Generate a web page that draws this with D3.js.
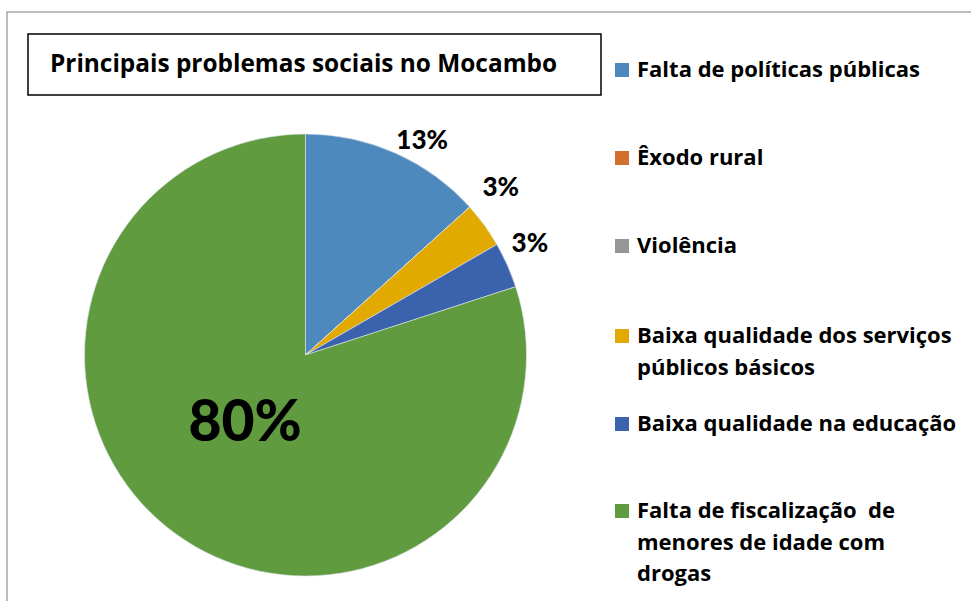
<!DOCTYPE html>
<html><head><meta charset="utf-8">
<script src="https://cdn.jsdelivr.net/npm/d3@7"></script>
<style>html,body{margin:0;padding:0;background:#fff;}svg{display:block;}</style>
</head><body>
<svg id="c" width="971" height="601"></svg>
<script>
const title = "Principais problemas sociais no Mocambo";
const categories = ["Falta de políticas públicas","Êxodo rural","Violência","Baixa qualidade dos serviços públicos básicos","Baixa qualidade na educação","Falta de fiscalização  de menores de idade com drogas"];
const legendLines = [["Falta de políticas públicas"],["Êxodo rural"],["Violência"],["Baixa qualidade dos serviços","públicos básicos"],["Baixa qualidade na educação"],["Falta de fiscalização  de","menores de idade com","drogas"]];
const values = [4, 0, 0, 1, 1, 24];
const colors = ["#4E89BE","#D4702D","#969696","#E2AA00","#3B63AD","#609B40"];

const svg = d3.select("#c");
const font = "'Open Sans', sans-serif";
const lfont = "Lato, sans-serif";

// outer frame
svg.append("rect").attr("x",7).attr("y",12).attr("width",1000).attr("height",1000)
  .attr("fill","none").attr("stroke","#a6a6a6").attr("stroke-width",1.5);

// title box
svg.append("rect").attr("x",28).attr("y",34).attr("width",573).attr("height",61)
  .attr("fill","#fff").attr("stroke","#000").attr("stroke-width",1.5);
svg.append("text").attr("x",50).attr("y",72).text(title)
  .attr("font-family",font).attr("font-weight","bold").attr("font-size",24.4).attr("fill","#000");

// pie
const cx = 305.5, cy = 355, R = 221;
const total = d3.sum(values);
const pie = d3.pie().sort(null).value(d=>d)(values);
const arc = d3.arc().innerRadius(0).outerRadius(R);
const g = svg.append("g").attr("transform",`translate(${cx},${cy})`);
g.selectAll("path").data(pie).join("path")
  .attr("d",arc).attr("fill",(d,i)=>colors[i])
  .attr("stroke","#dfe6ee").attr("stroke-width",0.6);

// labels
const fmt = d3.format(".0%");
const outerArc = d3.arc().innerRadius(250).outerRadius(250);
const nudges = [[15,13],[0,0],[0,0],[-7,-21],[-4,-11],[0,0]];
pie.forEach((d,i)=>{
  if (d.value === 0) return;
  const big = d.value/total > 0.5;
  let [x,y] = outerArc.centroid(d);
  if (big) { x = -60.5; y = 65; }
  x += nudges[i][0]; y += nudges[i][1];
  const fs = big ? 57 : 26;
  g.append("text").attr("x",x).attr("y",y).attr("dy","0.36em")
    .attr("text-anchor","middle").attr("font-family",lfont).attr("font-weight","900")
    .attr("font-size",fs).attr("fill","#000").text(fmt(d.value/total));
});

// legend
const lx = 615, baselines = [77,165,253,343,431,518], lh = 31.7;
const leg = svg.append("g");
categories.forEach((c,i)=>{
  leg.append("rect").attr("x",lx).attr("y",baselines[i]-14).attr("width",14).attr("height",14).attr("fill",colors[i]);
  const t = leg.append("text").attr("font-family",font).attr("font-weight","bold").attr("font-size",22).attr("fill","#000");
  legendLines[i].forEach((ln,k)=>{
    t.append("tspan").attr("x",637).attr("y",baselines[i]+k*lh).attr("xml:space","preserve").style("white-space","pre").text(ln);
  });
});
</script>
</body></html>
